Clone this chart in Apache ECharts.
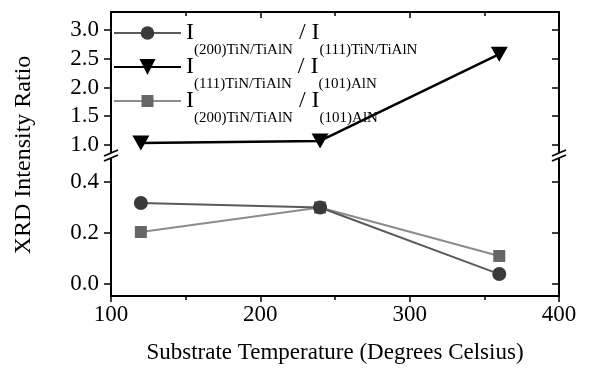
<!DOCTYPE html>
<html><head><meta charset="utf-8">
<script src="https://cdn.jsdelivr.net/npm/echarts@6/dist/echarts.min.js"></script>
<style>html,body{margin:0;padding:0;background:#fff}#c{width:590px;height:371px}</style>
</head><body><div id="c"></div>
<script>
// ---- data ----
const temps = [120, 240, 360];
const ratio200_111 = [0.318, 0.30, 0.039];   // circles
const ratio111_AlN = [1.035, 1.07, 2.58];    // triangles
const ratio200_AlN = [0.204, 0.30, 0.11];    // squares
const xTicks = [100, 200, 300, 400];
const upperTicks = [1.0, 1.5, 2.0, 2.5, 3.0];
const lowerTicks = [0.0, 0.2, 0.4];
const names = ['c200_111', 't111_AlN', 's200_AlN'];
const legendLabels = {
  c200_111: '{i|I}{s|(200)TiN/TiAlN}{i| / I}{s|(111)TiN/TiAlN}',
  t111_AlN: '{i|I}{s|(111)TiN/TiAlN}{i| / I}{s|(101)AlN}',
  s200_AlN: '{i|I}{s|(200)TiN/TiAlN}{i| / I}{s|(101)AlN}'
};
const xTitle = 'Substrate Temperature (Degrees Celsius)';
const yTitle = 'XRD Intensity Ratio';

const F = 'Liberation Serif';
const chart = echarts.init(document.getElementById('c'), null, {renderer: 'canvas'});
const pts = arr => temps.map((t, i) => [t, arr[i]]);
const axLine = {show: true, onZero: false, lineStyle: {color: '#000', width: 2}};
const tickStyle = {color: '#000', width: 1.5};

function yAx(grid, pos, min, max, ticks, labels) {
  return {
    gridIndex: grid, type: 'value', position: pos, min: min, max: max,
    axisLine: axLine,
    axisTick: {show: true, inside: pos === 'right', length: 7, lineStyle: tickStyle, customValues: ticks},
    axisLabel: {show: labels, customValues: ticks, formatter: v => v.toFixed(1),
      fontFamily: F, fontSize: 23, color: '#000', margin: 12},
    splitLine: {show: false}
  };
}

const legendTops = [21, 55, 89];
const legendHeights = [17, 20, 15];
const rich = {
  i: {fontFamily: F, fontSize: 24, color: '#000', lineHeight: 50, verticalAlign: 'middle'},
  s: {fontFamily: F, fontSize: 15, color: '#000', verticalAlign: 'bottom'}
};

const option = {
  animation: false,
  backgroundColor: '#fff',
  grid: [
    {left: 111, right: 31, top: 12, height: 143},
    {left: 111, right: 31, top: 155, height: 141}
  ],
  xAxis: [
    {gridIndex: 0, type: 'value', position: 'top', min: 100, max: 400, interval: 100,
     axisLine: axLine,
     axisTick: {show: true, inside: true, length: 6, lineStyle: tickStyle},
     minorTick: {show: true, splitNumber: 2, length: 4, lineStyle: tickStyle},
     axisLabel: {show: false}, splitLine: {show: false}},
    {gridIndex: 1, type: 'value', position: 'bottom', min: 100, max: 400, interval: 100,
     axisLine: axLine,
     axisTick: {show: true, inside: false, length: 6, lineStyle: tickStyle},
     minorTick: {show: true, splitNumber: 2, length: 4, lineStyle: tickStyle},
     axisLabel: {fontFamily: F, fontSize: 23, color: '#000', margin: 7,
       customValues: xTicks},
     splitLine: {show: false},
     name: xTitle, nameLocation: 'middle', nameGap: 45,
     nameTextStyle: {fontFamily: F, fontSize: 23, color: '#000'}}
  ],
  yAxis: [
    yAx(0, 'left', 0.826, 3.313, upperTicks, true),
    yAx(0, 'right', 0.826, 3.313, upperTicks, false),
    yAx(1, 'left', -0.047, 0.506, lowerTicks, true),
    yAx(1, 'right', -0.047, 0.506, lowerTicks, false)
  ],
  legend: names.map((n, k) => ({
    data: [n], left: 113, top: legendTops[k], padding: 0,
    itemWidth: 67, itemHeight: legendHeights[k],
    formatter: name => legendLabels[name],
    textStyle: {fontFamily: F, color: '#000', rich: rich},
    selectedMode: false
  })),
  series: [
    {name: names[1], type: 'line', xAxisIndex: 0, yAxisIndex: 0, data: pts(ratio111_AlN),
     symbol: 'triangle', symbolRotate: 180, symbolSize: [17, 15],
     itemStyle: {color: '#000'}, lineStyle: {color: '#000', width: 2.5}},
    {name: names[2], type: 'line', xAxisIndex: 1, yAxisIndex: 2, data: pts(ratio200_AlN),
     symbol: 'rect', symbolSize: 12,
     itemStyle: {color: '#666'}, lineStyle: {color: '#8c8c8c', width: 2}},
    {name: names[0], type: 'line', xAxisIndex: 1, yAxisIndex: 2, data: pts(ratio200_111),
     symbol: 'circle', symbolSize: 14,
     itemStyle: {color: '#3a3a3a'}, lineStyle: {color: '#5a5a5a', width: 2}}
  ],
  graphic: [
    {type: 'polygon', z: 100, shape: {points: [[104, 156], [118, 150], [118, 155], [104, 161]]}, style: {fill: '#fff'}},
    {type: 'line', z: 101, shape: {x1: 104, y1: 156, x2: 118, y2: 150}, style: {stroke: '#000', lineWidth: 1.8}},
    {type: 'line', z: 101, shape: {x1: 104, y1: 161, x2: 118, y2: 155}, style: {stroke: '#000', lineWidth: 1.8}},
    {type: 'polygon', z: 100, shape: {points: [[552, 156], [566, 150], [566, 155], [552, 161]]}, style: {fill: '#fff'}},
    {type: 'line', z: 101, shape: {x1: 552, y1: 156, x2: 566, y2: 150}, style: {stroke: '#000', lineWidth: 1.8}},
    {type: 'line', z: 101, shape: {x1: 552, y1: 161, x2: 566, y2: 155}, style: {stroke: '#000', lineWidth: 1.8}},
    {type: 'text', x: 24, y: 155, rotation: Math.PI / 2,
     style: {text: yTitle, font: '24px "Liberation Serif"', fill: '#000', align: 'center', verticalAlign: 'middle'}}
  ]
};
chart.setOption(option);
</script>
</body></html>
